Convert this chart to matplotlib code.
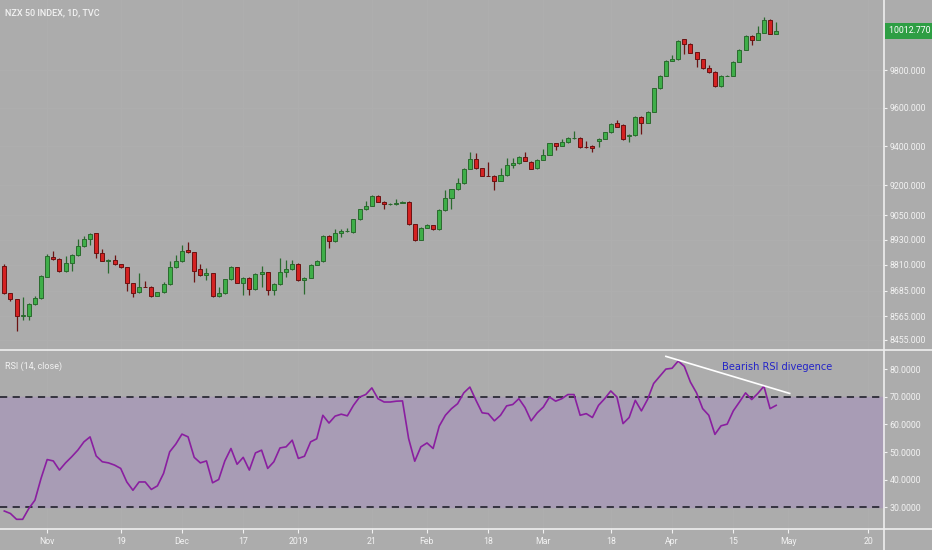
import matplotlib
matplotlib.use("Agg")
import matplotlib.pyplot as plt
from matplotlib.ticker import FixedLocator, FixedFormatter, NullLocator
import numpy as np

plt.rcParams['font.family'] = ['Roboto', 'DejaVu Sans']

# NZX 50 daily candles, oldest first
opens = [8805, 8673, 8644, 8567, 8567, 8621, 8649, 8752, 8846, 8838,
         8780, 8817, 8857, 8898, 8933, 8962, 8865, 8828, 8830, 8812,
         8796, 8720, 8677, 8704, 8704, 8661, 8677, 8716, 8798, 8825,
         8881, 8869, 8789, 8760, 8768, 8661, 8673, 8739, 8796, 8723,
         8747, 8692, 8764, 8773, 8688, 8716, 8776, 8788, 8814, 8736,
         8747, 8809, 8825, 8950, 8922, 8963, 8971, 8968, 9031, 9081,
         9099, 9148, 9119, 9106, 9109, 9114, 9119, 9007, 8930, 8989,
         9002, 8981, 9077, 9136, 9181, 9211, 9284, 9334, 9287, 9250,
         9249, 9224, 9253, 9305, 9313, 9347, 9321, 9287, 9330, 9356,
         9416, 9402, 9421, 9440, 9442, 9395, 9403, 9425, 9439, 9473,
         9519, 9510, 9452, 9458, 9553, 9522, 9580, 9704, 9769, 9850,
         9858, 9968, 9942, 9897, 9859, 9811, 9790, 9713, 9769, 9771,
         9846, 9910, 9986, 9964, 10004, 10073, 9997]
highs = [8814, 8676, 8646, 8655, 8624, 8660, 8758, 8861, 8878, 8841,
         8849, 8860, 8935, 8949, 8962, 8965, 8886, 8835, 8857, 8815,
         8799, 8722, 8768, 8731, 8707, 8680, 8728, 8828, 8857, 8903,
         8919, 8872, 8814, 8793, 8771, 8704, 8742, 8801, 8800, 8750,
         8750, 8767, 8804, 8776, 8719, 8844, 8833, 8833, 8817, 8750,
         8812, 8830, 8953, 8953, 8984, 8984, 8988, 9034, 9084, 9124,
         9150, 9152, 9122, 9113, 9131, 9121, 9122, 9010, 8992, 9006,
         9005, 9080, 9177, 9184, 9237, 9287, 9370, 9365, 9290, 9321,
         9252, 9287, 9339, 9339, 9350, 9370, 9325, 9333, 9385, 9419,
         9419, 9436, 9450, 9480, 9450, 9429, 9406, 9442, 9476, 9518,
         9534, 9513, 9463, 9556, 9556, 9583, 9707, 9772, 9853, 9883,
         9963, 9971, 9945, 9900, 9862, 9828, 9793, 9772, 9775, 9849,
         9913, 9989, 9989, 10042, 10088, 10076, 10064]
lows = [8670, 8638, 8496, 8547, 8547, 8618, 8645, 8748, 8830, 8776,
        8776, 8781, 8853, 8894, 8906, 8841, 8825, 8768, 8808, 8792,
        8685, 8657, 8673, 8700, 8657, 8658, 8674, 8712, 8795, 8822,
        8866, 8725, 8757, 8736, 8657, 8657, 8670, 8736, 8719, 8664,
        8664, 8689, 8704, 8664, 8664, 8713, 8752, 8785, 8733, 8668,
        8744, 8806, 8822, 8890, 8919, 8945, 8968, 8965, 9028, 9078,
        9096, 9116, 9081, 9102, 9101, 9111, 9004, 8926, 8927, 8986,
        8978, 8978, 9074, 9081, 9178, 9208, 9281, 9284, 9247, 9246,
        9177, 9221, 9250, 9287, 9310, 9322, 9281, 9284, 9327, 9353,
        9382, 9399, 9418, 9437, 9392, 9391, 9368, 9395, 9436, 9470,
        9498, 9434, 9421, 9455, 9463, 9519, 9577, 9700, 9766, 9847,
        9855, 9886, 9892, 9817, 9808, 9787, 9710, 9710, 9766, 9768,
        9843, 9907, 9937, 9961, 10001, 9994, 9994]
closes = [8673, 8644, 8567, 8569, 8621, 8649, 8755, 8849, 8838, 8780,
          8817, 8857, 8898, 8933, 8958, 8865, 8828, 8830, 8812, 8796,
          8720, 8673, 8704, 8703, 8661, 8677, 8716, 8798, 8825, 8877,
          8869, 8781, 8760, 8768, 8661, 8673, 8739, 8798, 8723, 8747,
          8692, 8764, 8773, 8688, 8716, 8776, 8788, 8814, 8736, 8747,
          8809, 8825, 8950, 8922, 8963, 8971, 8972, 9031, 9081, 9099,
          9147, 9119, 9106, 9109, 9114, 9117, 9007, 8930, 8989, 9002,
          8981, 9077, 9136, 9181, 9211, 9284, 9334, 9287, 9250, 9249,
          9224, 9253, 9305, 9313, 9347, 9325, 9284, 9330, 9356, 9416,
          9402, 9421, 9440, 9442, 9395, 9394, 9390, 9439, 9473, 9515,
          9501, 9437, 9460, 9553, 9522, 9580, 9704, 9769, 9850, 9858,
          9960, 9942, 9895, 9859, 9811, 9790, 9713, 9769, 9771, 9846,
          9910, 9986, 9964, 10004, 10073, 9997, 10012.77]

# RSI(14) values per bar
rsi = [28.7, 27.8, 25.7, 25.7, 29.6, 32.6, 40.5, 47.3, 46.8, 43.5,
       46.1, 48.3, 50.7, 53.7, 55.5, 48.6, 46.5, 46.1, 45.3, 44.1,
       39.2, 36.2, 39.2, 39.2, 36.5, 37.8, 42.3, 50.1, 52.9, 56.5,
       55.5, 48.1, 46.1, 46.8, 38.9, 40.1, 46.8, 51.3, 45.6, 48.1,
       43.5, 49.7, 50.7, 44.1, 46.5, 51.5, 51.9, 54.3, 47.7, 48.5,
       53.7, 54.8, 63.3, 60.5, 63.0, 63.7, 63.1, 66.9, 69.9, 70.8,
       73.2, 69.3, 68.1, 68.1, 68.4, 68.5, 54.9, 46.7, 51.9, 53.3,
       51.3, 59.4, 63.3, 65.7, 67.5, 71.4, 73.5, 68.7, 64.2, 63.9,
       61.3, 63.3, 66.7, 67.2, 69.3, 66.1, 61.3, 64.2, 66.3, 69.9,
       68.4, 69.3, 70.8, 70.8, 63.3, 63.9, 62.5, 66.9, 69.3, 72.1,
       69.9, 60.3, 62.5, 68.7, 64.9, 69.0, 74.8, 77.4, 80.0, 80.3,
       82.9, 81.0, 75.3, 71.4, 65.7, 63.3, 56.4, 59.5, 60.1, 64.9,
       68.1, 71.4, 69.0, 71.2, 73.8, 65.7, 66.9]

price_ticks = [8455, 8565, 8685, 8810, 8930, 9050, 9200, 9400, 9600, 9800]
rsi_ticks = [30, 40, 50, 60, 70, 80]
date_pos = [7, 19, 29, 39, 48, 60, 69, 79, 88, 99, 109, 119, 128, 141]
date_labels = ["Nov", "19", "Dec", "17", "2019", "21", "Feb", "18", "Mar",
               "18", "Apr", "15", "May", "20"]

# hand drawn divergence line (bar index, rsi value)
trend_x = [108.0, 128.2]
trend_y = [84.6, 71.2]

BG = "#acacac"
TXT = "#f2f2f2"
UP, UP_EDGE = "#3fae49", "#2a6a2e"
DN, DN_EDGE = "#d42222", "#6b1212"
FS = 6.3

fig = plt.figure(figsize=(9.32, 5.5), dpi=100, facecolor=BG)
ax = fig.add_axes([0, 1 - 350 / 550, 884 / 932, 350 / 550], facecolor=BG)
ax2 = fig.add_axes([0, 21 / 550, 884 / 932, 179 / 550], facecolor=BG)

x = np.arange(len(closes))
o = np.array(opens, dtype=float)
c = np.array(closes, dtype=float)
up = c >= o

# candles
ax.vlines(x[up], np.array(lows)[up], np.array(highs)[up], color=UP_EDGE, lw=0.9, zorder=2)
ax.vlines(x[~up], np.array(lows)[~up], np.array(highs)[~up], color=DN_EDGE, lw=0.9, zorder=2)
ax.bar(x[up], np.maximum(c - o, 0.5)[up], bottom=o[up], width=0.66,
       color=UP, edgecolor=UP_EDGE, lw=0.7, zorder=3)
ax.bar(x[~up], (o - c)[~up], bottom=c[~up], width=0.66,
       color=DN, edgecolor=DN_EDGE, lw=0.7, zorder=3)

xlim = (-0.7, 143.6)
ax.set_yscale("log")
ax.set_ylim(8407, 10184)
ax.set_xlim(*xlim)
ax.yaxis.set_major_locator(FixedLocator(price_ticks))
ax.yaxis.set_major_formatter(FixedFormatter([f"{t:.3f}" for t in price_ticks]))
ax.yaxis.set_minor_locator(NullLocator())
ax.yaxis.tick_right()
ax.set_xticks([])
for t in price_ticks:
    ax.axhline(t, color="#afafaf", lw=0.6, zorder=0)
for p in date_pos:
    ax.axvline(p, color="#afafaf", lw=0.6, zorder=0)
    ax2.axvline(p, color="#afafaf", lw=0.6, zorder=0)

ax.text(0.006, 0.963, "NZX 50 INDEX, 1D, TVC", transform=ax.transAxes,
        color=TXT, fontsize=6.5, fontweight="medium", va="center")

# last price tag
ax.text(1.006, closes[-1], f"{closes[-1]:.3f} ", transform=ax.get_yaxis_transform(),
        color="white", fontsize=FS, va="center", ha="left",
        bbox=dict(boxstyle="square,pad=0.45", facecolor="#2e9e44", edgecolor="none"))

# RSI panel
ax2.fill_between(xlim, 30, 70, color="#a89cb5", zorder=1)
ax2.axhline(70, color="#2b2b36", lw=1.3, ls=(0, (4, 3)), zorder=2)
ax2.axhline(30, color="#2b2b36", lw=1.3, ls=(0, (4, 3)), zorder=2)
ax2.plot(x, rsi, color="#8a1fa0", lw=1.2, zorder=4)
ax2.plot(trend_x, trend_y, color="white", lw=1.2, zorder=5)
ax2.text(126.1, 80.8, "Bearish RSI divegence", color="#2424c8", fontsize=7.1,
         family="DejaVu Sans", ha="center", va="center", zorder=6)
ax2.text(0.006, 0.91, "RSI (14, close)", transform=ax2.transAxes,
         color=TXT, fontsize=6.5, va="center")
ax2.set_xlim(*xlim)
ax2.set_ylim(22.2, 86.9)
ax2.yaxis.tick_right()
ax2.set_yticks(rsi_ticks)
ax2.set_yticklabels([f"{t:.4f}" for t in rsi_ticks])
ax2.set_xticks(date_pos)
ax2.set_xticklabels(date_labels)

for a in (ax, ax2):
    for s in a.spines.values():
        s.set_visible(False)
    a.tick_params(axis="y", colors=TXT, labelsize=FS, length=2.5, width=0.8,
                  pad=1.5, labelcolor=TXT)
ax2.tick_params(axis="x", colors=TXT, labelsize=FS, length=3, width=0.8,
                pad=3, labelcolor=TXT)

# panel separators
fig.add_artist(plt.Line2D([0, 1], [1 - 350 / 550] * 2, color="#efefef", lw=1.2))
fig.add_artist(plt.Line2D([0, 1], [21 / 550] * 2, color="#efefef", lw=1.2))
fig.add_artist(plt.Line2D([884 / 932] * 2, [0, 1], color="#efefef", lw=1.2))

fig.savefig("out.png", dpi=100, facecolor=BG)
